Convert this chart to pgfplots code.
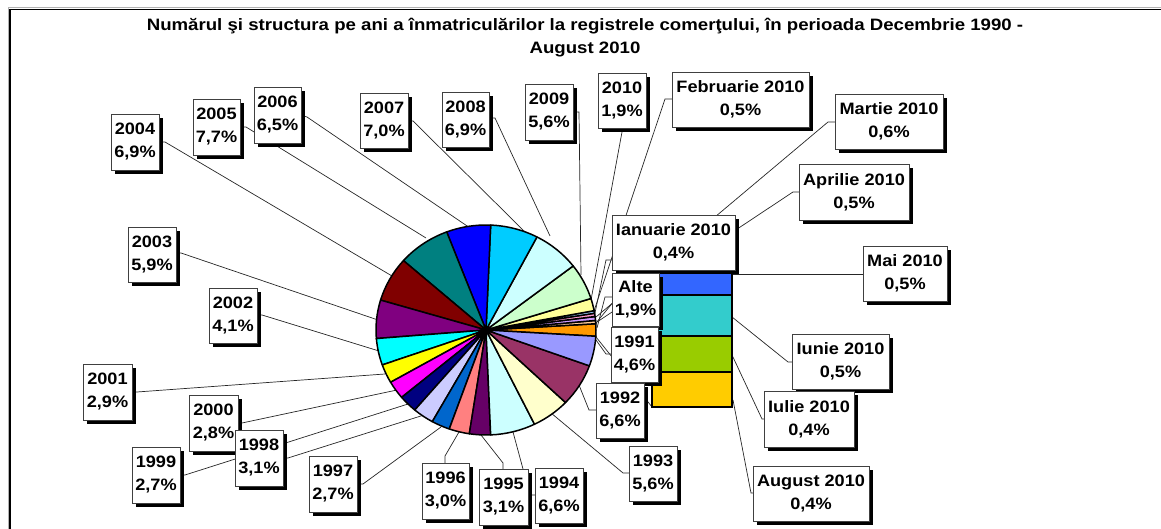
\documentclass[border=0pt]{standalone}
\usepackage{fontspec}
\setmainfont{Liberation Sans}[FakeStretch=1.1]
\usepackage{pgfplots}
\pgfplotsset{compat=1.18}
\usetikzlibrary{calc}
\tikzset{ldr/.style={draw=black!85,line width=0.7pt}}

\definecolor{c1991}{HTML}{9999FF}
\definecolor{c1992}{HTML}{993366}
\definecolor{c1993}{HTML}{FFFFCC}
\definecolor{c1994}{HTML}{CCFFFF}
\definecolor{c1995}{HTML}{660066}
\definecolor{c1996}{HTML}{FF8080}
\definecolor{c1997}{HTML}{0066CC}
\definecolor{c1998}{HTML}{CCCCFF}
\definecolor{c1999}{HTML}{000080}
\definecolor{c2000}{HTML}{FF00FF}
\definecolor{c2001}{HTML}{FFFF00}
\definecolor{c2002}{HTML}{00FFFF}
\definecolor{c2003}{HTML}{800080}
\definecolor{c2004}{HTML}{800000}
\definecolor{c2005}{HTML}{008080}
\definecolor{c2006}{HTML}{0000FF}
\definecolor{c2007}{HTML}{00CCFF}
\definecolor{c2008}{HTML}{CCFFFF}
\definecolor{c2009}{HTML}{CCFFCC}
\definecolor{c2010}{HTML}{FFFF99}
\definecolor{cIan}{HTML}{99CCFF}
\definecolor{cFeb}{HTML}{FF99CC}
\definecolor{cMar}{HTML}{CC99FF}
\definecolor{cApr}{HTML}{FFCC99}
\definecolor{cMai}{HTML}{3366FF}
\definecolor{cIun}{HTML}{33CCCC}
\definecolor{cIul}{HTML}{99CC00}
\definecolor{cAug}{HTML}{FFCC00}
\definecolor{cAlte}{HTML}{FF9900}

\newcommand\lblfont{\bfseries\fontsize{16.5}{23}\selectfont}
\newcommand\lbl[6]{%
 \fill[black] ([shift={(4pt,-4pt)}]axis cs:#1,-#2) rectangle ([shift={(4pt,-4pt)}]axis cs:#3,-#4);
 \filldraw[fill=white,draw=black!75,line width=0.8pt] (axis cs:#1,-#2) rectangle (axis cs:#3,-#4);
 \node[align=center,inner sep=0pt,font=\lblfont] at ($(axis cs:#1,-#2)!0.5!(axis cs:#3,-#4)$) {#5\\#6};
}

% pie shares (%), counterclockwise from the "Alte" slice centred at 3 o'clock
\gdef\piecmds{}
\gdef\curang{-3.4166}
\foreach \v/\c in {1.9/cAlte,0.5/cApr,0.6/cMar,0.5/cFeb,0.4/cIan,1.9/c2010,5.6/c2009,6.9/c2008,7.0/c2007,6.5/c2006,7.7/c2005,6.9/c2004,5.9/c2003,4.1/c2002,2.9/c2001,2.8/c2000,2.7/c1999,3.1/c1998,2.7/c1997,3.0/c1996,3.1/c1995,6.6/c1994,5.6/c1993,6.6/c1992,4.6/c1991}{%
  \pgfmathsetmacro\endang{\curang+\v*360/100.1}%
  \xdef\piecmds{\unexpanded\expandafter{\piecmds}\noexpand\filldraw[fill=\c,draw=black,line width=1.5pt,line join=round] (axis cs:486,-330) -- ++(\curang:110pt and 105pt) arc[start angle=\curang,end angle=\endang,x radius=110pt,y radius=105pt] -- cycle;}%
  \xdef\curang{\endang}%
}

\begin{document}
\begin{tikzpicture}
\begin{axis}[hide axis, x=1pt, y=1pt, xmin=0, xmax=1161, ymin=-529, ymax=0,
  scale only axis, clip=false]
% frame
\draw[black!30,line width=1pt] (axis cs:8,-529) -- (axis cs:8,-7.5) -- (axis cs:1161,-7.5);
\draw[black,line width=1.4pt] (axis cs:10,-529) -- (axis cs:10,-9.5) -- (axis cs:1161,-9.5);
% title
\node[anchor=base,font=\lblfont] at (axis cs:585,-31) {\scalebox{1.027}[1]{Numărul şi structura pe ani a înmatriculărilor la registrele comerţului, în perioada Decembrie 1990 -}};
\node[anchor=base,font=\lblfont] at (axis cs:585,-54) {\scalebox{1.027}[1]{August 2010}};
% leader lines
\draw[ldr] (axis cs:159,-142) -- (axis cs:165,-142) -- (axis cs:392,-276);
\draw[ldr] (axis cs:240,-127) -- (axis cs:246,-127) -- (axis cs:426,-238);
\draw[ldr] (axis cs:300,-115) -- (axis cs:307,-117) -- (axis cs:470,-228);
\draw[ldr] (axis cs:408,-121) -- (axis cs:413,-121) -- (axis cs:525,-232);
\draw[ldr] (axis cs:489,-118) -- (axis cs:495,-118) -- (axis cs:550,-236);
\draw[ldr] (axis cs:573,-112) -- (axis cs:579,-112) -- (axis cs:581,-275);
\draw[ldr] (axis cs:622,-128) -- (axis cs:622,-132) -- (axis cs:591,-300);
\draw[ldr] (axis cs:672,-99) -- (axis cs:665,-99) -- (axis cs:594,-311);
\draw[ldr] (axis cs:835,-122) -- (axis cs:828,-122) -- (axis cs:596,-317);
\draw[ldr] (axis cs:799,-192) -- (axis cs:793,-192) -- (axis cs:597,-322);
\draw[ldr] (axis cs:612,-260) -- (axis cs:606,-260) -- (axis cs:595,-313);
\draw[ldr] (axis cs:612,-297) -- (axis cs:605,-297) -- (axis cs:597,-328);
\draw[ldr] (axis cs:611,-354) -- (axis cs:606,-354) -- (axis cs:596,-340);
\draw[ldr] (axis cs:596,-410) -- (axis cs:589,-410) -- (axis cs:579,-385);
\draw[ldr] (axis cs:629,-473) -- (axis cs:623,-473) -- (axis cs:551,-413);
\draw[ldr] (axis cs:535,-495) -- (axis cs:531,-495) -- (axis cs:523,-469) -- (axis cs:513,-432);
\draw[ldr] (axis cs:503,-469) -- (axis cs:503,-463) -- (axis cs:481,-435);
\draw[ldr] (axis cs:445,-463) -- (axis cs:445,-456) -- (axis cs:459,-432);
\draw[ldr] (axis cs:357,-484) -- (axis cs:363,-484) -- (axis cs:441,-427);
\draw[ldr] (axis cs:283,-458) -- (axis cs:288,-458) -- (axis cs:424,-415);
\draw[ldr] (axis cs:180,-475) -- (axis cs:185,-475) -- (axis cs:408,-404);
\draw[ldr] (axis cs:238,-423) -- (axis cs:242,-423) -- (axis cs:397,-390);
\draw[ldr] (axis cs:132,-392) -- (axis cs:137,-392) -- (axis cs:385,-374);
\draw[ldr] (axis cs:257,-315) -- (axis cs:262,-315) -- (axis cs:379,-351);
\draw[ldr] (axis cs:176,-253) -- (axis cs:181,-253) -- (axis cs:378,-320);
\draw[ldr] (axis cs:732,-274) -- (axis cs:863,-274);
\draw[ldr] (axis cs:732,-317) -- (axis cs:788,-362) -- (axis cs:792,-362);
\draw[ldr] (axis cs:732,-355) -- (axis cs:762,-419) -- (axis cs:764,-419);
\draw[ldr] (axis cs:733,-400) -- (axis cs:751,-493) -- (axis cs:753,-493);
% series lines pie -> bar
\draw[ldr] (axis cs:596,-323) -- (axis cs:652,-255);
\draw[ldr] (axis cs:596,-337) -- (axis cs:652,-407);
% pie
\piecmds
% bar of "Alte" (pixels: 1% ~ 85)
\addplot[fill=cAug,draw=black,line width=1.5pt] coordinates {(652,-407) (732,-407) (732,-372) (652,-372)} -- cycle;
\addplot[fill=cIul,draw=black,line width=1.5pt] coordinates {(652,-372) (732,-372) (732,-336) (652,-336)} -- cycle;
\addplot[fill=cIun,draw=black,line width=1.5pt] coordinates {(652,-336) (732,-336) (732,-295) (652,-295)} -- cycle;
\addplot[fill=cMai,draw=black,line width=1.5pt] coordinates {(652,-295) (732,-295) (732,-254) (652,-254)} -- cycle;
% labels
\lbl{111}{114}{159}{170}{2004}{6,9\%}
\lbl{193}{99}{240}{155}{2005}{7,7\%}
\lbl{254}{87}{301}{143}{2006}{6,5\%}
\lbl{360}{93}{408}{148}{2007}{7,0\%}
\lbl{442}{92}{489}{147}{2008}{6,9\%}
\lbl{525}{84}{573}{140}{2009}{5,6\%}
\lbl{598}{73}{646}{128}{2010}{1,9\%}
\lbl{672}{72}{809}{127}{Februarie 2010}{0,5\%}
\lbl{835}{94}{943}{149}{Martie 2010}{0,6\%}
\lbl{799}{164}{909}{220}{Aprilie 2010}{0,5\%}
\lbl{863}{246}{947}{301}{Mai 2010}{0,5\%}
\lbl{612}{215}{735}{270}{Ianuarie 2010}{0,4\%}
\lbl{612}{273}{659}{326}{Alte}{1,9\%}
\lbl{611}{327}{658}{382}{1991}{4,6\%}
\lbl{596}{383}{644}{438}{1992}{6,6\%}
\lbl{629}{446}{677}{501}{1993}{5,6\%}
\lbl{535}{468}{583}{523}{1994}{6,6\%}
\lbl{479}{469}{528}{525}{1995}{3,1\%}
\lbl{422}{463}{469}{519}{1996}{3,0\%}
\lbl{309}{456}{357}{512}{1997}{2,7\%}
\lbl{189}{395}{238}{451}{2000}{2,8\%}
\lbl{132}{447}{180}{503}{1999}{2,7\%}
\lbl{235}{430}{283}{486}{1998}{3,1\%}
\lbl{83}{364}{132}{420}{2001}{2,9\%}
\lbl{209}{288}{257}{343}{2002}{4,1\%}
\lbl{128}{227}{176}{282}{2003}{5,9\%}
\lbl{792}{334}{889}{389}{Iunie 2010}{0,5\%}
\lbl{764}{391}{854}{447}{Iulie 2010}{0,4\%}
\lbl{753}{466}{869}{521}{August 2010}{0,4\%}
\end{axis}
\pgfresetboundingbox
\path (current axis.south west) rectangle (current axis.north east);
\end{tikzpicture}
\end{document}
